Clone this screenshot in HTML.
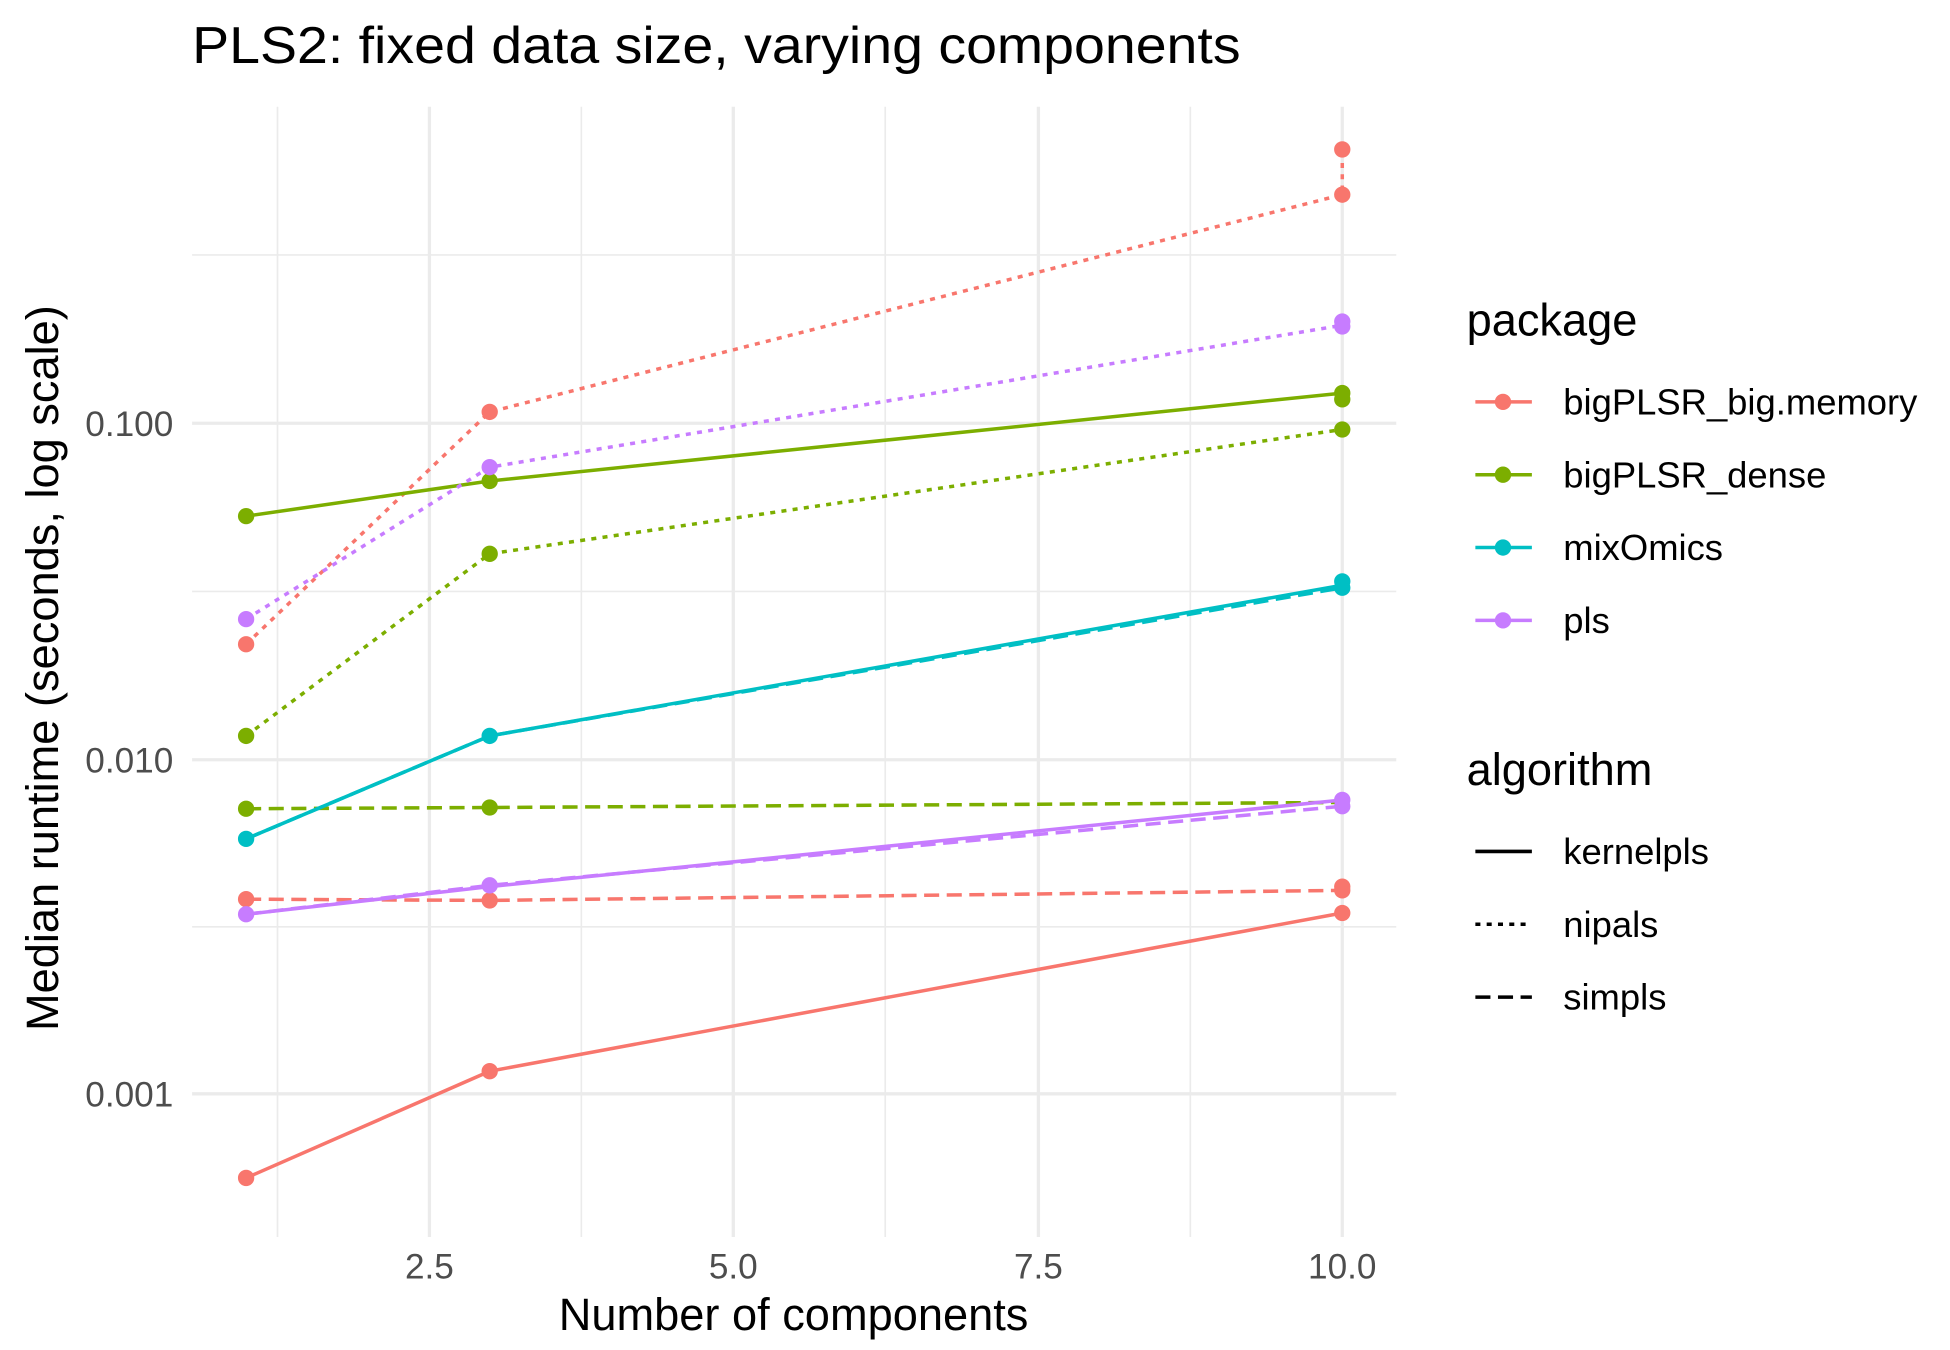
<!DOCTYPE html>
<html><head><meta charset="utf-8"><style>html,body{margin:0;padding:0;background:#fff}svg{display:block}</style></head>
<body>
<svg width="1950" height="1350" viewBox="0 0 1553 1075" preserveAspectRatio="none" xmlns="http://www.w3.org/2000/svg" font-family="Liberation Sans, sans-serif">
<rect width="1553" height="1075" fill="#fff"/>
<g stroke="#ebebeb" stroke-width="1.3">
<line x1="153" x2="1112" y1="203" y2="203"/><line x1="153" x2="1112" y1="471" y2="471"/><line x1="153" x2="1112" y1="738" y2="738"/>
<line x1="221" x2="221" y1="85" y2="985"/><line x1="463" x2="463" y1="85" y2="985"/><line x1="705" x2="705" y1="85" y2="985"/><line x1="948" x2="948" y1="85" y2="985"/>
</g>
<g stroke="#ebebeb" stroke-width="2.6">
<line x1="153" x2="1112" y1="337" y2="337"/><line x1="153" x2="1112" y1="605" y2="605"/><line x1="153" x2="1112" y1="871" y2="871"/>
<line x1="342" x2="342" y1="85" y2="985"/><line x1="584" x2="584" y1="85" y2="985"/><line x1="827" x2="827" y1="85" y2="985"/><line x1="1069" x2="1069" y1="85" y2="985"/>
</g>
<g fill="none" stroke-width="2.8">
<polyline stroke="#F8766D" points="196,938 390,853 1069,727"/>
<polyline stroke="#F8766D" stroke-dasharray="4,5" points="196,513 390,328 1069,155 1069,119"/>
<polyline stroke="#F8766D" stroke-dasharray="12,6" points="196,716 390,717 1069,709"/>
<polyline stroke="#7CAE00" points="196,411 390,383 1069,313"/>
<polyline stroke="#7CAE00" stroke-dasharray="4,5" points="196,586 390,441 1069,342"/>
<polyline stroke="#7CAE00" stroke-dasharray="12,6" points="196,644 390,643 1069,639"/>
<polyline stroke="#00BFC4" points="196,668 390,586 1069,466"/>
<polyline stroke="#00BFC4" stroke-dasharray="12,6" points="196,668 390,586 1069,468"/>
<polyline stroke="#C77CFF" stroke-dasharray="4,5" points="196,493 390,372 1069,259"/>
<polyline stroke="#C77CFF" stroke-dasharray="12,6" points="196,728 390,705 1069,642"/>
<polyline stroke="#C77CFF" points="196,728 390,706 1069,637"/>
</g>
<g fill="#F8766D"><circle cx="196" cy="938" r="6.5"/><circle cx="390" cy="853" r="6.5"/><circle cx="1069" cy="727" r="6.5"/><circle cx="196" cy="513" r="6.5"/><circle cx="390" cy="328" r="6.5"/><circle cx="1069" cy="155" r="6.5"/><circle cx="1069" cy="119" r="6.5"/><circle cx="196" cy="716" r="6.5"/><circle cx="390" cy="717" r="6.5"/><circle cx="1069" cy="709" r="6.5"/><circle cx="1069" cy="706" r="6.5"/></g>
<g fill="#7CAE00"><circle cx="196" cy="411" r="6.5"/><circle cx="390" cy="383" r="6.5"/><circle cx="1069" cy="313" r="6.5"/><circle cx="1069" cy="318" r="6.5"/><circle cx="196" cy="586" r="6.5"/><circle cx="390" cy="441" r="6.5"/><circle cx="1069" cy="342" r="6.5"/><circle cx="196" cy="644" r="6.5"/><circle cx="390" cy="643" r="6.5"/></g>
<g fill="#00BFC4"><circle cx="196" cy="668" r="6.5"/><circle cx="390" cy="586" r="6.5"/><circle cx="1069" cy="463" r="6.5"/><circle cx="1069" cy="468" r="6.5"/></g>
<g fill="#C77CFF"><circle cx="196" cy="493" r="6.5"/><circle cx="390" cy="372" r="6.5"/><circle cx="1069" cy="256" r="6.5"/><circle cx="1069" cy="260" r="6.5"/><circle cx="196" cy="728" r="6.5"/><circle cx="390" cy="705" r="6.5"/><circle cx="1069" cy="637" r="6.5"/><circle cx="1069" cy="642" r="6.5"/></g>
<text x="153" y="50" font-size="41" fill="#000" textLength="835" lengthAdjust="spacingAndGlyphs">PLS2: fixed data size, varying components</text>
<g font-size="28" fill="#4d4d4d" text-anchor="end"><text x="138" y="347">0.100</text><text x="138" y="615">0.010</text><text x="138" y="881">0.001</text></g>
<g font-size="28" fill="#4d4d4d" text-anchor="middle"><text x="342" y="1018">2.5</text><text x="584" y="1018">5.0</text><text x="827" y="1018">7.5</text><text x="1069" y="1018">10.0</text></g>
<text x="632" y="1059" font-size="36" text-anchor="middle">Number of components</text>
<text transform="translate(46,532) rotate(-90)" font-size="36" text-anchor="middle">Median runtime (seconds, log scale)</text>
<text x="1168" y="267" font-size="36">package</text>
<g stroke-width="2.8"><line x1="1175" x2="1220" y1="320" y2="320" stroke="#F8766D"/><line x1="1175" x2="1220" y1="378" y2="378" stroke="#7CAE00"/><line x1="1175" x2="1220" y1="436" y2="436" stroke="#00BFC4"/><line x1="1175" x2="1220" y1="494" y2="494" stroke="#C77CFF"/></g>
<circle cx="1197" cy="320" r="6.5" fill="#F8766D"/><circle cx="1197" cy="378" r="6.5" fill="#7CAE00"/><circle cx="1197" cy="436" r="6.5" fill="#00BFC4"/><circle cx="1197" cy="494" r="6.5" fill="#C77CFF"/>
<g font-size="29"><text x="1245" y="330">bigPLSR_big.memory</text><text x="1245" y="388">bigPLSR_dense</text><text x="1245" y="446">mixOmics</text><text x="1245" y="504">pls</text></g>
<text x="1168" y="625" font-size="36">algorithm</text>
<g stroke="#000" stroke-width="2.8"><line x1="1175" x2="1220" y1="678" y2="678"/><line x1="1175" x2="1220" y1="736" y2="736" stroke-dasharray="4,5"/><line x1="1175" x2="1220" y1="794" y2="794" stroke-dasharray="12,6"/></g>
<g font-size="29"><text x="1245" y="688">kernelpls</text><text x="1245" y="746">nipals</text><text x="1245" y="804">simpls</text></g>
</svg>
</body></html>
